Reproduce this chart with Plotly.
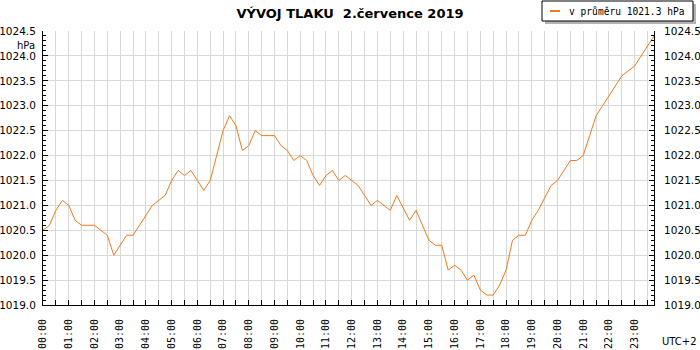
import plotly.graph_objects as go

# ---- data ----
times = [f"2019-07-02 {h:02d}:{m:02d}" for h in range(24) for m in (0, 15, 30, 45)]
pressure = [
    1020.5, 1020.6, 1020.9, 1021.1, 1021.0, 1020.7, 1020.6, 1020.6,
    1020.6, 1020.5, 1020.4, 1020.0, 1020.2, 1020.4, 1020.4, 1020.6,
    1020.8, 1021.0, 1021.1, 1021.2, 1021.5, 1021.7, 1021.6, 1021.7,
    1021.5, 1021.3, 1021.5, 1022.0, 1022.5, 1022.8, 1022.6, 1022.1,
    1022.2, 1022.5, 1022.4, 1022.4, 1022.4, 1022.2, 1022.1, 1021.9,
    1022.0, 1021.9, 1021.6, 1021.4, 1021.6, 1021.7, 1021.5, 1021.6,
    1021.5, 1021.4, 1021.2, 1021.0, 1021.1, 1021.0, 1020.9, 1021.2,
    1020.95, 1020.7, 1020.9, 1020.6, 1020.3, 1020.2, 1020.2, 1019.7,
    1019.8, 1019.7, 1019.5, 1019.6, 1019.3, 1019.2, 1019.2, 1019.4,
    1019.7, 1020.3, 1020.4, 1020.4, 1020.7, 1020.9, 1021.15, 1021.4,
    1021.5, 1021.7, 1021.9, 1021.9, 1022.0, 1022.4, 1022.8, 1023.0,
    1023.2, 1023.4, 1023.6, 1023.7, 1023.8, 1024.0, 1024.2, 1024.4,
]
title_text = "VÝVOJ TLAKU  2.července 2019"
legend_text = "v průměru 1021.3 hPa"
y_min, y_max = 1019.0, 1024.5

LINE = "#f07820"
GRID = "#d8d8d8"
MONO = "DejaVu Sans Mono"
SANS = "DejaVu Sans"

W, H = 700, 350
ML, MR, MT, MB = 43, 46, 31, 45
PW, PH = W - ML - MR, H - MT - MB


def px(x):
    return (x - ML) / PW


def py(y):
    return (H - MB - y) / PH


fig = go.Figure()
fig.add_trace(go.Scatter(x=times, y=pressure, mode="lines",
                         line=dict(color=LINE, width=1), showlegend=False,
                         hoverinfo="x+y"))
# invisible trace on right axis
fig.add_trace(go.Scatter(x=[times[0]], y=[pressure[0]], yaxis="y2", mode="lines",
                         line=dict(width=0), showlegend=False, hoverinfo="skip"))

fig.update_layout(
    width=W, height=H,
    margin=dict(l=ML, r=MR, t=MT, b=MB, pad=0, autoexpand=False),
    paper_bgcolor="white", plot_bgcolor="white",
    font=dict(family=SANS, size=10, color="black"),
    title=dict(text=title_text, x=0.5, xref="container", xanchor="center",
               y=1 - 13 / H, yref="container", yanchor="middle",
               font=dict(family=SANS, size=13, color="black", weight="bold")),
    xaxis=dict(
        type="date", range=[times[0], times[-1]], automargin=False,
        tick0=times[0], dtick=3600000, tickformat="%H:%M", tickangle=-90,
        ticks="inside", ticklen=5, tickcolor="black",
        showline=True, linecolor="black", linewidth=1,
        showgrid=True, gridcolor=GRID, gridwidth=1,
        minor=dict(dtick=1800000, ticks="inside", ticklen=5, tickcolor="black",
                   showgrid=True, gridcolor=GRID),
        ticklabelstandoff=9, zeroline=False,
        tickfont=dict(family=MONO, size=10),
    ),
    yaxis=dict(
        range=[y_min, y_max], dtick=0.5, tick0=1019.0, tickformat=".1f", automargin=False,
        ticks="inside", ticklen=5, tickcolor="black",
        showline=True, linecolor="black", linewidth=1,
        showgrid=True, gridcolor=GRID, gridwidth=1,
        minor=dict(dtick=0.1, ticks="inside", ticklen=3, tickcolor="black", showgrid=False),
        ticklabelstandoff=4, zeroline=False,
        tickfont=dict(family=SANS, size=10.5),
    ),
    yaxis2=dict(
        range=[y_min, y_max], dtick=0.5, tick0=1019.0, tickformat=".1f", automargin=False,
        overlaying="y", side="right", anchor="x",
        ticks="inside", ticklen=5, tickcolor="black",
        showline=True, linecolor="black", linewidth=1,
        showgrid=False,
        minor=dict(dtick=0.1, ticks="inside", ticklen=3, tickcolor="black", showgrid=False),
        ticklabelstandoff=7, zeroline=False,
        tickfont=dict(family=SANS, size=10.5),
    ),
)

# manual legend box
fig.add_shape(type="rect", xref="paper", yref="paper",
              x0=px(545), x1=px(696), y0=py(24), y1=py(4),
              fillcolor="#b4b4b4", line=dict(width=0))
fig.add_shape(type="rect", xref="paper", yref="paper",
              x0=px(542), x1=px(693), y0=py(21), y1=py(1),
              fillcolor="white", line=dict(color="black", width=1))
fig.add_shape(type="line", xref="paper", yref="paper",
              x0=px(550), x1=px(560), y0=py(11), y1=py(11),
              line=dict(color=LINE, width=2))
fig.add_annotation(text=legend_text, xref="paper", yref="paper",
                   x=px(567), y=py(11), xanchor="left", yanchor="middle",
                   showarrow=False, font=dict(family=MONO, size=9.6, color="black"))

# unit and timezone labels
fig.add_annotation(text="hPa", xref="paper", yref="paper",
                   x=px(37), y=py(45), xanchor="right", yanchor="middle",
                   showarrow=False, font=dict(family=SANS, size=10, color="black"))
fig.add_annotation(text="UTC+2", xref="paper", yref="paper",
                   x=px(699), y=py(341), xanchor="right", yanchor="middle",
                   showarrow=False, font=dict(family=SANS, size=10, color="black"))

fig.write_html("out.html", config={"displayModeBar": False},
               post_script="document.body.style.margin='0px';")
